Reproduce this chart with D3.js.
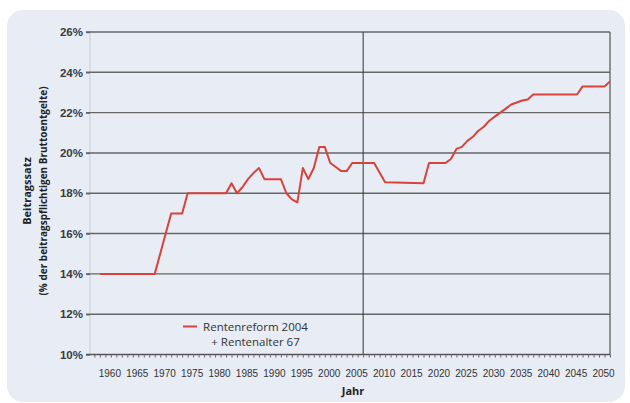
<!DOCTYPE html>
<html>
<head>
<meta charset="utf-8">
<script src="https://cdn.jsdelivr.net/npm/d3@7"></script>
<style>
  body { margin: 0; background: #fff; }
  svg { display: block; font-family: "Open Sans", sans-serif; }
</style>
</head>
<body>
<div id="container"></div>
<script>
// Beitragssatz (% der beitragspflichtigen Bruttoentgelte)
var years = [1957, 1967, 1968, 1969, 1970, 1972, 1973, 1980, 1981, 1982, 1983, 1984, 1985, 1986,
    1987, 1990, 1991, 1992, 1993, 1994, 1995, 1996, 1997, 1998, 1999, 2000, 2001, 2002, 2003,
    2007, 2009, 2016, 2017, 2020, 2021, 2022, 2023, 2024, 2025, 2026, 2027, 2028, 2029, 2030,
    2031, 2032, 2033, 2034, 2035, 2036, 2044, 2045, 2049, 2050];
var rates = [14.0, 14.0, 15.0, 16.0, 17.0, 17.0, 18.0, 18.0, 18.5, 18.0, 18.3, 18.7, 19.0, 19.25,
    18.7, 18.7, 18.0, 17.7, 17.55, 19.25, 18.7, 19.25, 20.3, 20.3, 19.5, 19.3, 19.1, 19.1, 19.5,
    19.5, 18.55, 18.5, 19.5, 19.5, 19.7, 20.2, 20.3, 20.6, 20.8, 21.1, 21.3, 21.6, 21.8, 22.0,
    22.2, 22.4, 22.5, 22.6, 22.65, 22.9, 22.9, 23.3, 23.3, 23.55];
var yTicks = [10, 12, 14, 16, 18, 20, 22, 24, 26];
var xLabels = [1960, 1965, 1970, 1975, 1980, 1985, 1990, 1995, 2000, 2005,
    2010, 2015, 2020, 2025, 2030, 2035, 2040, 2045, 2050];
var markerYear = 2005;
var seriesName = ["Rentenreform 2004", "+ Rentenalter 67"];

var width = 630, height = 403;
var margin = {left: 90, top: 32, right: 20, bottom: 48.5};
var innerW = width - margin.left - margin.right;
var innerH = height - margin.top - margin.bottom;

var svg = d3.select("#container").append("svg")
    .attr("width", width)
    .attr("height", height);

// panel background
svg.append("rect")
    .attr("x", 7).attr("y", 10)
    .attr("width", 618).attr("height", 392)
    .attr("rx", 16)
    .attr("fill", "#e8ecf5");

var g = svg.append("g")
    .attr("transform", "translate(" + margin.left + "," + margin.top + ")");

var x = d3.scaleLinear().domain([1955.2, 2050]).range([0, innerW]);
var y = d3.scaleLinear().domain([10, 26]).range([innerH, 0]);

// left axis line (light)
g.append("line")
    .attr("x1", 0).attr("x2", 0)
    .attr("y1", 0).attr("y2", innerH)
    .attr("stroke", "#c9cdd6");

// gridlines
g.selectAll(".grid")
    .data(yTicks.slice(1))
    .enter().append("line")
    .attr("class", "grid")
    .attr("x1", -4).attr("x2", innerW)
    .attr("y1", d => y(d)).attr("y2", d => y(d))
    .attr("stroke", "#666")
    .attr("stroke-width", 1.4);

// right border
g.append("line")
    .attr("x1", innerW).attr("x2", innerW)
    .attr("y1", 0).attr("y2", innerH)
    .attr("stroke", "#6a6a6a")
    .attr("stroke-width", 1.4);

// 2005 marker
g.append("line")
    .attr("x1", x(markerYear)).attr("x2", x(markerYear))
    .attr("y1", 0).attr("y2", innerH)
    .attr("stroke", "#333")
    .attr("stroke-width", 1);

// y axis labels
var yAxis = g.append("g")
    .call(d3.axisLeft(y).tickValues(yTicks).tickSize(4).tickPadding(3)
        .tickFormat(d => d + "%"));
yAxis.select(".domain").remove();
yAxis.selectAll("line").attr("stroke", "#666").attr("stroke-width", 1.4);
yAxis.selectAll("text")
    .attr("fill", "#3a3a3a")
    .style("font-size", "11.5px")
    .style("font-weight", 600);

// x axis: yearly minor ticks + labels
var xAxis = g.append("g")
    .attr("transform", "translate(0," + innerH + ")")
    .call(d3.axisBottom(x).tickValues(d3.range(1956, 2051)).tickSize(3).tickFormat(""));
xAxis.select(".domain").attr("d", "M-4,0H" + innerW).attr("stroke", "#555").attr("stroke-width", 1.4);
xAxis.selectAll("line").attr("stroke", "#666");

var xLab = g.append("g")
    .attr("transform", "translate(0," + innerH + ")")
    .call(d3.axisBottom(x).tickValues(xLabels).tickSize(0).tickFormat(d3.format("d")));
xLab.select(".domain").remove();
xLab.selectAll("text")
    .attr("y", 22).attr("dy", 0).attr("dx", -7)
    .attr("fill", "#333")
    .style("font-size", "10px");

// line
var line = d3.line()
    .x((d, i) => x(years[i]))
    .y(d => y(d));

g.append("path")
    .datum(rates)
    .attr("fill", "none")
    .attr("stroke", "#d7423b")
    .attr("stroke-width", 2)
    .attr("stroke-linejoin", "round")
    .attr("d", line);

// axis titles
svg.append("text")
    .attr("x", 353).attr("y", 394.5)
    .attr("text-anchor", "middle")
    .style("font-size", "11px").style("font-weight", 700)
    .attr("fill", "#222")
    .text("Jahr");

var yt = svg.append("text")
    .attr("transform", "translate(0,191) rotate(-90)")
    .attr("text-anchor", "middle")
    .style("font-size", "10px").style("font-weight", 700)
    .attr("fill", "#222");
yt.append("tspan").attr("x", 0).attr("y", 31).style("font-size", "11px").text("Beitragssatz");
yt.append("tspan").attr("x", 0).attr("y", 47).text("(% der beitragspflichtigen Bruttoentgelte)");

// legend
svg.append("line")
    .attr("x1", 183).attr("x2", 197)
    .attr("y1", 326.5).attr("y2", 326.5)
    .attr("stroke", "#d7423b").attr("stroke-width", 2);
svg.selectAll(".leg")
    .data(seriesName)
    .enter().append("text")
    .attr("class", "leg")
    .attr("x", 255.5)
    .attr("y", (d, i) => 330.5 + i * 15)
    .attr("text-anchor", "middle")
    .attr("fill", "#333")
    .style("font-size", "11.5px")
    .text(d => d);
</script>
</body>
</html>
